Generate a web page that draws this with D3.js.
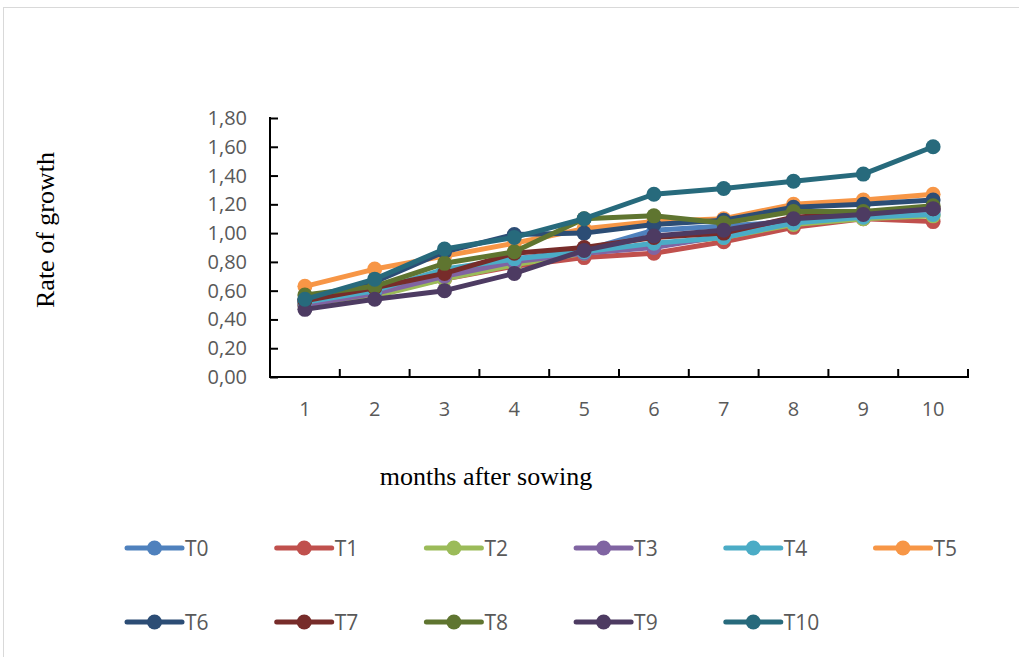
<!DOCTYPE html>
<html>
<head>
<meta charset="utf-8">
<script src="https://cdn.jsdelivr.net/npm/d3@7"></script>
<style>
  html, body { margin: 0; padding: 0; background: #fff; }
  svg { display: block; }
</style>
</head>
<body>
<svg id="chart" width="1019" height="657"></svg>
<script>
// Months after sowing
const months = [1, 2, 3, 4, 5, 6, 7, 8, 9, 10];

// Growth rate per treatment
const T0  = [0.52, 0.60, 0.72, 0.82, 0.88, 1.02, 1.05, 1.08, 1.12, 1.16];
const T1  = [0.50, 0.58, 0.68, 0.77, 0.83, 0.86, 0.94, 1.04, 1.10, 1.08];
const T2  = [0.50, 0.56, 0.68, 0.78, 0.86, 0.92, 0.97, 1.06, 1.10, 1.12];
const T3  = [0.50, 0.58, 0.70, 0.80, 0.86, 0.90, 0.98, 1.08, 1.13, 1.15];
const T4  = [0.52, 0.60, 0.75, 0.82, 0.87, 0.93, 0.97, 1.07, 1.11, 1.13];
const T5  = [0.63, 0.75, 0.84, 0.93, 1.03, 1.08, 1.10, 1.20, 1.23, 1.27];
const T6  = [0.54, 0.66, 0.87, 0.99, 1.00, 1.06, 1.09, 1.18, 1.20, 1.23];
const T7  = [0.53, 0.62, 0.72, 0.86, 0.90, 0.97, 1.00, 1.11, 1.14, 1.17];
const T8  = [0.57, 0.63, 0.79, 0.87, 1.10, 1.12, 1.07, 1.15, 1.15, 1.19];
const T9  = [0.47, 0.54, 0.60, 0.72, 0.88, 0.98, 1.02, 1.10, 1.13, 1.17];
const T10 = [0.54, 0.68, 0.89, 0.97, 1.10, 1.27, 1.31, 1.36, 1.41, 1.60];

const seriesNames = ["T0", "T1", "T2", "T3", "T4", "T5", "T6", "T7", "T8", "T9", "T10"];
const seriesValues = [T0, T1, T2, T3, T4, T5, T6, T7, T8, T9, T10];
const seriesColors = ["#4F81BD", "#C0504D", "#9BBB59", "#8064A2", "#4BACC6", "#F79646",
                      "#2C4D75", "#772C2A", "#5F7530", "#4D3B62", "#276A7C"];

// Y axis tick values
const yTicks = [0, 0.2, 0.4, 0.6, 0.8, 1.0, 1.2, 1.4, 1.6, 1.8];

const series = seriesNames.map((name, i) => ({
  name, color: seriesColors[i],
  points: months.map((m, j) => ({ m, v: seriesValues[i][j] }))
}));

const svg = d3.select("#chart");

// Chart area frame
svg.append("rect")
  .attr("x", 3.5).attr("y", 7.5)
  .attr("width", 1040).attr("height", 700)
  .attr("fill", "none").attr("stroke", "#d9d9d9").attr("stroke-width", 1);

const plot = { left: 270, right: 968, top: 118, bottom: 377 };

const x = d3.scaleBand().domain(months).range([plot.left, plot.right]).padding(0);
const y = d3.scaleLinear().domain([0, 1.8]).range([plot.bottom, plot.top]);
const cx = m => x(m) + x.bandwidth() / 2;

const fmt = v => d3.format(".2f")(v).replace(".", ",");

// Y axis (ticks inside)
const yAxis = svg.append("g")
  .attr("transform", `translate(${plot.left},0)`)
  .call(d3.axisRight(y).tickValues(yTicks).tickSize(8).tickFormat(""));
yAxis.select(".domain").remove();
yAxis.selectAll(".tick line").attr("stroke", "#000").attr("stroke-width", 2);
svg.append("line")
  .attr("x1", plot.left).attr("x2", plot.left)
  .attr("y1", plot.top - 1).attr("y2", plot.bottom + 1)
  .attr("stroke", "#000").attr("stroke-width", 2);

svg.append("g").selectAll("text").data(yTicks).join("text")
  .attr("x", plot.left - 23).attr("y", d => y(d))
  .attr("dy", "0.35em").attr("text-anchor", "end")
  .attr("font-family", "Open Sans, sans-serif").attr("font-size", 20)
  .attr("fill", "#595959")
  .text(fmt);

// X axis (ticks inside, between categories)
const boundaries = months.map(m => x(m)).concat([plot.right]).slice(1);
svg.append("line")
  .attr("x1", plot.left - 1).attr("x2", plot.right + 1)
  .attr("y1", plot.bottom).attr("y2", plot.bottom)
  .attr("stroke", "#000").attr("stroke-width", 2);
svg.append("g").selectAll("line").data(boundaries).join("line")
  .attr("x1", d => d).attr("x2", d => d)
  .attr("y1", plot.bottom).attr("y2", plot.bottom - 8)
  .attr("stroke", "#000").attr("stroke-width", 2);

svg.append("g").selectAll("text").data(months).join("text")
  .attr("x", d => cx(d)).attr("y", plot.bottom + 32)
  .attr("dy", "0.35em").attr("text-anchor", "middle")
  .attr("font-family", "Open Sans, sans-serif").attr("font-size", 20)
  .attr("fill", "#595959")
  .text(d => d);

// Axis titles
svg.append("text")
  .attr("transform", "translate(54,230) rotate(-90)")
  .attr("text-anchor", "middle")
  .attr("font-family", "Liberation Serif, serif").attr("font-size", 26)
  .attr("fill", "#000")
  .text("Rate of growth");

svg.append("text")
  .attr("x", 486).attr("y", 485)
  .attr("text-anchor", "middle")
  .attr("font-family", "Liberation Serif, serif").attr("font-size", 26)
  .attr("fill", "#000")
  .text("months after sowing");

// Series lines and markers
const line = d3.line().x(d => cx(d.m)).y(d => y(d.v));
const g = svg.append("g");
series.forEach(s => {
  const sg = g.append("g");
  sg.append("path")
    .attr("d", line(s.points))
    .attr("fill", "none").attr("stroke", s.color)
    .attr("stroke-width", 5).attr("stroke-linejoin", "round").attr("stroke-linecap", "round");
  sg.selectAll("circle").data(s.points).join("circle")
    .attr("cx", d => cx(d.m)).attr("cy", d => y(d.v))
    .attr("r", 7.5).attr("fill", s.color);
});

// Legend: 6 columns, 2 rows
const legend = svg.append("g");
series.forEach((s, i) => {
  const col = i % 6, row = Math.floor(i / 6);
  const lx = 127 + col * 149.7, ly = 548 + row * 74;
  const lg = legend.append("g").attr("transform", `translate(${lx},${ly})`);
  lg.append("line").attr("x1", 0).attr("x2", 55).attr("y1", 0).attr("y2", 0)
    .attr("stroke", s.color).attr("stroke-width", 5).attr("stroke-linecap", "round");
  lg.append("circle").attr("cx", 27.5).attr("cy", 0).attr("r", 7.5).attr("fill", s.color);
  lg.append("text").attr("x", 58).attr("y", 0).attr("dy", "0.36em")
    .attr("font-family", "Open Sans, sans-serif").attr("font-size", 21)
    .attr("fill", "#595959")
    .text(s.name);
});
</script>
</body>
</html>
